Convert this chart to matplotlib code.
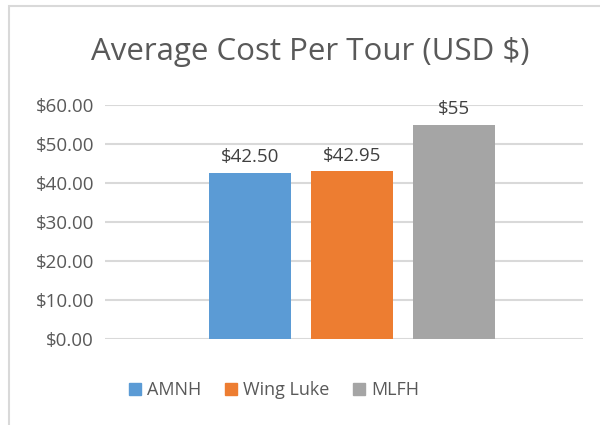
import matplotlib.pyplot as plt
from matplotlib.patches import Rectangle, Patch

# data
venues = ['AMNH', 'Wing Luke', 'MLFH']
costs = [42.50, 42.95, 55.0]
bar_labels = ['$42.50', '$42.95', '$55']
colors = ['#5B9BD5', '#ED7D31', '#A5A5A5']
y_ticks = [0, 10, 20, 30, 40, 50, 60]

plt.rcParams['font.family'] = ['Open Sans', 'DejaVu Sans']

fig = plt.figure(figsize=(6, 4.25), dpi=100)
ax = fig.add_axes([105 / 600, 1 - 339 / 425, 478 / 600, 234 / 425])

positions = [-1, 0, 1]
bars = ax.bar(positions, costs, width=0.8, color=colors, zorder=3)

for b, lab in zip(bars, bar_labels):
    ax.annotate(lab, (b.get_x() + b.get_width() / 2, b.get_height()),
                xytext=(0, 5), textcoords='offset points',
                ha='center', va='bottom', fontsize=13.5, color='#404040')

ax.set_ylim(0, 60)
ax.set_xlim(-2.42, 2.26)
ax.set_yticks(y_ticks)
ax.set_yticklabels([f'${v:.2f}' for v in y_ticks])
ax.set_xticks([])
ax.tick_params(axis='y', length=0, pad=8, labelsize=13.5, labelcolor='#595959')
ax.grid(axis='y', color='#D9D9D9', linewidth=1.5, zorder=0)
for s in ax.spines.values():
    s.set_visible(False)

fig.text(310 / 600, 1 - 52 / 425, 'Average Cost Per Tour (USD $)',
         ha='center', va='center', fontsize=22.5, color='#595959')

handles = [Patch(color=c) for c in colors]
fig.legend(handles, venues, loc='center', bbox_to_anchor=(274 / 600, 1 - 390 / 425),
           ncol=3, frameon=False, fontsize=13, labelcolor='#595959',
           handlelength=0.65, handleheight=0.65, handletextpad=0.35, columnspacing=1.3)

# chart border (cropped at right and bottom)
fig.patches.append(Rectangle((9 / 600, -0.1), 1.2, 1.1 - 6 / 425,
                             transform=fig.transFigure, fill=False,
                             edgecolor='#D9D9D9', linewidth=1.5))

fig.savefig('out.png', dpi=100)
